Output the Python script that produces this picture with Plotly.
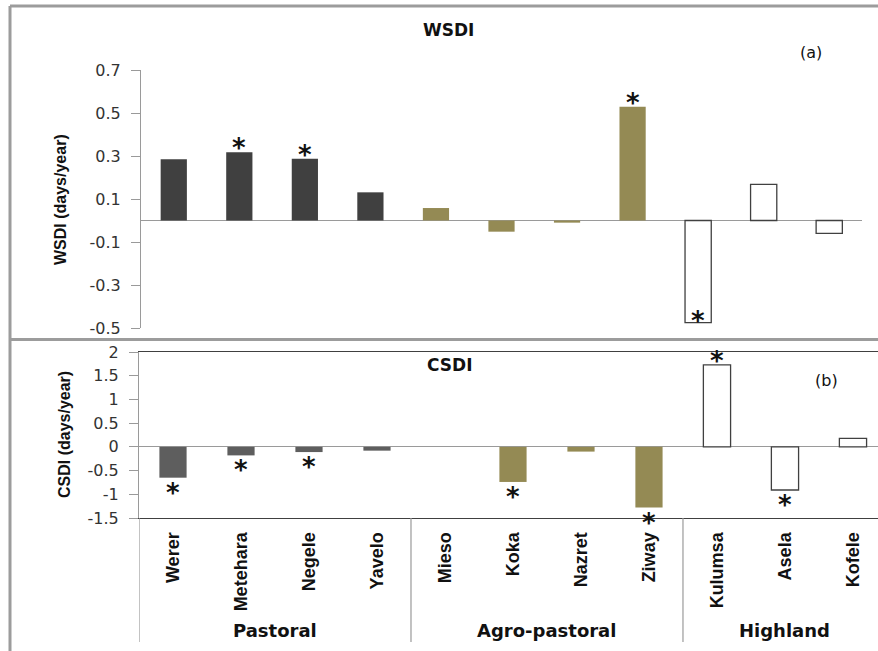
import plotly.graph_objects as go

# ---------------- data ----------------
stations = ["Werer", "Metehara", "Negele", "Yavelo", "Mieso", "Koka",
            "Nazret", "Ziway", "Kulumsa", "Asela", "Kofele"]
zones = ["Pastoral", "Pastoral", "Pastoral", "Pastoral",
         "Agro-pastoral", "Agro-pastoral", "Agro-pastoral", "Agro-pastoral",
         "Highland", "Highland", "Highland"]
group_names = ["Pastoral", "Agro-pastoral", "Highland"]

wsdi = [0.285, 0.317, 0.287, 0.131, 0.058, -0.052, -0.010, 0.529, -0.475, 0.168, -0.060]
wsdi_sig = [False, True, True, False, False, False, False, True, True, False, False]

csdi = [-0.65, -0.18, -0.11, -0.08, 0.0, -0.74, -0.10, -1.28, 1.73, -0.91, 0.18]
csdi_sig = [True, True, True, False, False, True, False, True, True, True, False]

wsdi_ticks = [0.7, 0.5, 0.3, 0.1, -0.1, -0.3, -0.5]
wsdi_ticktext = ["0.7", "0.5", "0.3", "0.1", "-0.1", "-0.3", "-0.5"]
csdi_ticks = [2, 1.5, 1, 0.5, 0, -0.5, -1, -1.5]
csdi_ticktext = ["2", "1.5", "1", "0.5", "0", "-0.5", "-1", "-1.5"]

# ---------------- styles ----------------
W, H = 878, 651
def px(x):
    return x / W
def py(y):
    return 1 - y / H

fill_top = {"Pastoral": "#404040", "Agro-pastoral": "#948A54", "Highland": "#FFFFFF"}
fill_bot = {"Pastoral": "#5E5E5E", "Agro-pastoral": "#948A54", "Highland": "#FFFFFF"}
outline_w = {"Pastoral": 0, "Agro-pastoral": 0, "Highland": 1.3}

NUM_FONT = "DejaVu Sans, Verdana, sans-serif"
LAB_FONT = "Liberation Sans, Arial, sans-serif"

fig = go.Figure()

xs = list(range(len(stations)))
fig.add_trace(go.Bar(
    x=xs, y=wsdi, width=0.4, xaxis="x", yaxis="y",
    marker=dict(color=[fill_top[z] for z in zones],
                line=dict(color="#404040", width=[outline_w[z] for z in zones])),
    showlegend=False, hoverinfo="x+y"))
fig.add_trace(go.Bar(
    x=xs, y=csdi, width=0.4, xaxis="x2", yaxis="y2",
    marker=dict(color=[fill_bot[z] for z in zones],
                line=dict(color="#404040", width=[outline_w[z] for z in zones])),
    showlegend=False, hoverinfo="x+y"))

annotations = []
shapes = []

# significance asterisks
def add_stars(vals, sig, xref, yref, lo, scale):
    for i, (v, s) in enumerate(zip(vals, sig)):
        if not s:
            continue
        if v >= 0:
            shift = 10
        else:
            shift = -9
            # bar nearly touching the axis floor: star inside bar
            if v - 7 / scale < lo:
                shift = 8
        annotations.append(dict(
            x=i, y=v, xref=xref, yref=yref, text="*", showarrow=False,
            yanchor="middle", xanchor="center", yshift=shift - 6,
            font=dict(family=NUM_FONT, size=26, color="#111111", weight="bold")))

add_stars(wsdi, wsdi_sig, "x", "y", -0.5, 215)
add_stars(csdi, csdi_sig, "x2", "y2", -1.5, 47.4)

def paper_text(x, y, text, font, angle=0):
    return dict(x=px(x), y=py(y), xref="paper", yref="paper", text=text,
                showarrow=False, xanchor="center", yanchor="middle",
                textangle=angle, font=font)

annotations += [
    paper_text(448, 30, "<b>WSDI</b>", dict(family=NUM_FONT, size=17, color="#111")),
    paper_text(811, 52, "(a)", dict(family=NUM_FONT, size=16, color="#111")),
    paper_text(449, 365, "<b>CSDI</b>", dict(family=NUM_FONT, size=17, color="#111")),
    paper_text(826, 380, "(b)", dict(family=NUM_FONT, size=16, color="#111")),
    paper_text(60, 200, "<b>WSDI (days/year)</b>", dict(family=LAB_FONT, size=16, color="#111"), -90),
    paper_text(64, 435, "<b>CSDI (days/year)</b>", dict(family=LAB_FONT, size=16, color="#111"), -90),
]

# group labels and separators
start = 0
for g in group_names:
    n = zones.count(g)
    annotations.append(dict(
        x=start + (n - 1) / 2, y=py(630), xref="x2", yref="paper",
        text="<b>%s</b>" % g, showarrow=False, xanchor="center", yanchor="middle",
        font=dict(family=NUM_FONT, size=18, color="#111")))
    shapes.append(dict(type="line", xref="x2", yref="paper",
                       x0=start - 0.5, x1=start - 0.5, y0=py(518), y1=py(642),
                       line=dict(color="#9a9a9a", width=1.2)))
    start += n

# outer panel borders
bc = dict(color="#9c9c9c", width=3)
shapes += [
    dict(type="line", xref="paper", yref="paper", x0=px(10), x1=1.02, y0=py(6), y1=py(6), line=bc),
    dict(type="line", xref="paper", yref="paper", x0=px(10), x1=px(10), y0=py(6), y1=py(339), line=bc),
    dict(type="line", xref="paper", yref="paper", x0=px(10), x1=1.02, y0=py(339.5), y1=py(339.5), line=bc),
    dict(type="line", xref="paper", yref="paper", x0=px(10), x1=px(10), y0=py(339), y1=-0.02, line=bc),
]

tickfont = dict(family=NUM_FONT, size=16, color="#333")

fig.update_layout(
    width=W, height=H, margin=dict(l=0, r=0, t=0, b=0, autoexpand=False),
    paper_bgcolor="white", plot_bgcolor="rgba(0,0,0,0)",
    bargap=0.6, showlegend=False,
    xaxis=dict(domain=[px(141), px(862)], range=[-0.5, 10.5],
               showticklabels=False, showline=False, showgrid=False,
               zeroline=False, ticks="", fixedrange=True, automargin=False),
    yaxis=dict(domain=[py(328), py(70)], range=[-0.5, 0.7],
               tickvals=wsdi_ticks, ticktext=wsdi_ticktext, tickfont=tickfont,
               ticks="outside", ticklen=9, tickcolor="#9a9a9a",
               showline=True, linecolor="#9a9a9a", linewidth=1.2,
               showgrid=False, zeroline=True, zerolinecolor="#9a9a9a",
               zerolinewidth=1.2, ticklabelstandoff=7, automargin=False),
    xaxis2=dict(domain=[px(139), 1], range=[-0.5, 10.368], anchor="y2",
                tickvals=xs, ticktext=stations, tickangle=-90,
                tickfont=dict(family=LAB_FONT, size=18, color="#111", weight="bold"),
                ticks="", showline=True, mirror=True, linecolor="#404040",
                linewidth=1.3, showgrid=False, zeroline=False,
                ticklabelstandoff=6, automargin=False),
    yaxis2=dict(domain=[py(518), py(352)], range=[-1.5, 2], anchor="x2",
                tickvals=csdi_ticks, ticktext=csdi_ticktext, tickfont=tickfont,
                ticks="outside", ticklen=9, tickcolor="#9a9a9a",
                showline=True, linecolor="#9a9a9a", linewidth=1.2,
                showgrid=False, zeroline=True, zerolinecolor="#9a9a9a",
                zerolinewidth=1.2, ticklabelstandoff=7, automargin=False),
    annotations=annotations, shapes=shapes,
)

fig.write_html("out.html")
